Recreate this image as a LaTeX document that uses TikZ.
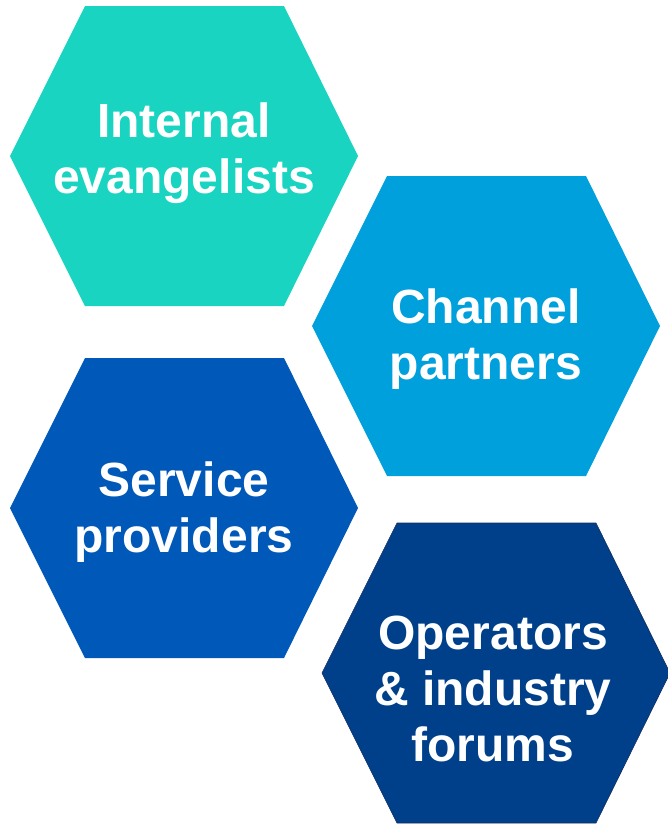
\documentclass[tikz,border=0pt]{standalone}
\usepackage{fontspec}
\setmainfont{Liberation Sans}
\definecolor{tealhex}{RGB}{24,212,192}
\definecolor{skyhex}{RGB}{0,160,220}
\definecolor{royalhex}{RGB}{0,88,184}
\definecolor{navyhex}{RGB}{0,64,138}
\definecolor{navyline}{RGB}{20,45,95}
\tikzset{hexlabel/.style={text=white, font=\bfseries\fontsize{48}{56}\selectfont, align=center, inner sep=0pt}}
\begin{document}
\begin{tikzpicture}[x=1pt,y=-1pt]
                \useasboundingbox (0,0) rectangle (667,825);
                \foreach \cx/\cy/\col in {184/156/tealhex, 486/326/skyhex, 184/508/royalhex}
                \path [fill=\col] (\cx-174,\cy) -- ++(75,-150) -- ++(199,0) -- ++(74,150) -- ++(-74,150) -- ++(-199,0) -- cycle;
                \path [draw=navyline, fill=navyhex, line width=0.6pt] (322,673) -- ++(75,-150) -- ++(199,0) -- ++(74,150) -- ++(-74,150) -- ++(-199,0) -- cycle;
                \node[hexlabel] (internal) at (184,153) {Internal\\evangelists};
                \node[hexlabel] (channel) at (486,339) {Channel\\partners};
                \node[hexlabel] (service) at (184,512) {Service\\providers};
                \node[hexlabel] (operators) at (493,689) {Operators\\\& industry\\forums};
            \end{tikzpicture}
\end{document}
